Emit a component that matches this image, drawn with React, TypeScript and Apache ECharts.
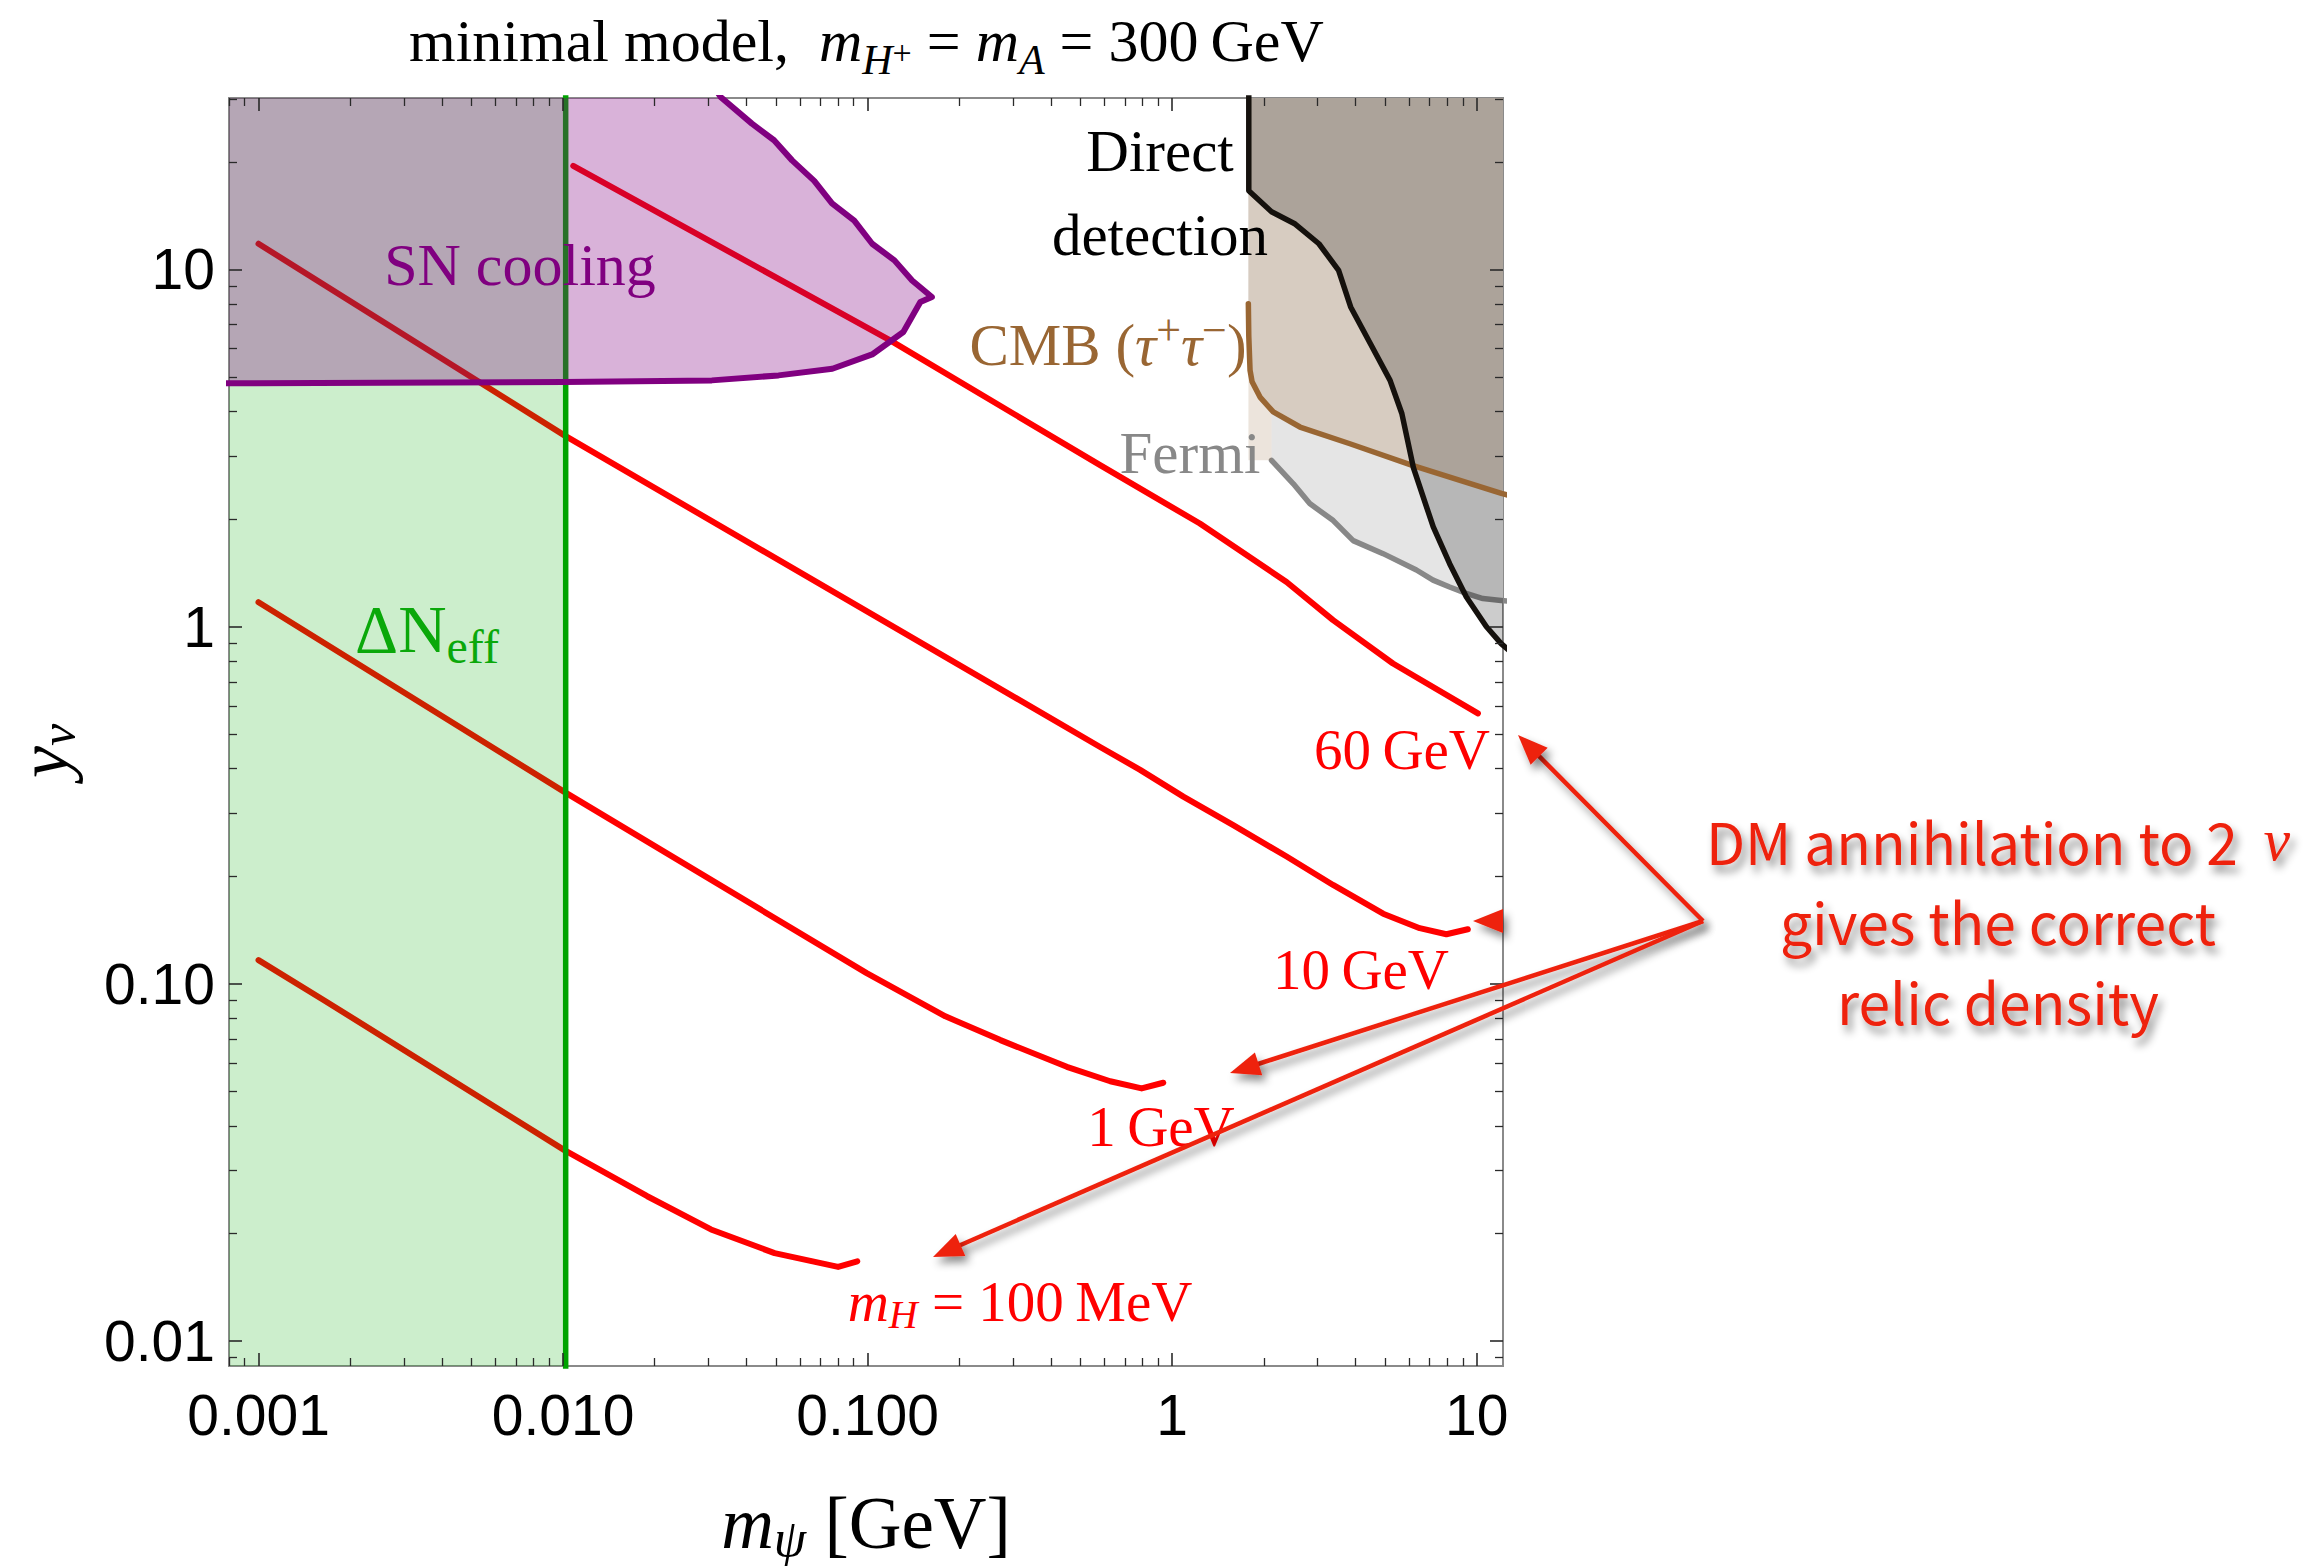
import React, { useEffect, useRef } from "react";
import * as echarts from "echarts";

// ---------------- axes ----------------
const X_MIN = 0.0008;
const X_MAX = 12.2;
const Y_MIN = 0.0085;
const Y_MAX = 30.2;

const xTickValues = [0.001, 0.01, 0.1, 1, 10];
const xTickLabels = ["0.001", "0.010", "0.100", "1", "10"];
const yTickValues = [0.01, 0.1, 1, 10];
const yTickLabels = ["0.01", "0.10", "1", "10"];
const xMinorTickValues = [
  0.0008, 0.0009, 0.002, 0.003, 0.004, 0.005, 0.006, 0.007, 0.008, 0.009, 0.02, 0.03, 0.04, 0.05, 0.06,
  0.07, 0.08, 0.09, 0.2, 0.3, 0.4, 0.5, 0.6, 0.7, 0.8, 0.9, 2, 3, 4, 5, 6, 7, 8, 9,
];
const yMinorTickValues = [
  0.009, 0.02, 0.03, 0.04, 0.05, 0.06, 0.07, 0.08, 0.09, 0.2, 0.3, 0.4, 0.5, 0.6, 0.7, 0.8, 0.9, 2, 3, 4,
  5, 6, 7, 8, 9, 20, 30,
];

// ---------------- relic density curves (m_psi [GeV], y_nu) ----------------
const relic100MeV = [
  [0.001, 0.1164], [0.00164, 0.0899], [0.0101, 0.0342], [0.0189, 0.0254], [0.0306, 0.0205],
  [0.0495, 0.0176], [0.08, 0.0161], [0.0925, 0.0167],
];
const relic1GeV = [
  [0.001, 1.17], [0.01, 0.346], [0.0993, 0.107], [0.18, 0.081], [0.273, 0.0695], [0.451, 0.0585],
  [0.626, 0.0533], [0.794, 0.0509], [0.935, 0.0528],
];
const relic10GeV = [
  [0.001, 11.8], [0.0101, 3.43], [0.58, 0.46], [0.785, 0.397], [1.088, 0.334], [1.587, 0.278],
  [2.376, 0.227], [3.376, 0.189], [4.93, 0.157], [6.5, 0.143], [7.95, 0.1375], [9.35, 0.142],
];
const relic60GeV = [
  [0.0108, 19.5], [0.1186, 6.33], [0.58, 2.83], [1.233, 1.943], [2.375, 1.333], [3.376, 1.042],
  [5.31, 0.788], [10.09, 0.571],
];

// ---------------- constraint boundaries ----------------
const deltaNeffEdge = 0.0102;
const snCoolingEdge = [
  [0.0005, 4.79], [0.0101, 4.84], [0.0308, 4.89], [0.051, 5.05], [0.0766, 5.27], [0.1035, 5.78],
  [0.131, 6.68], [0.149, 8.1], [0.1626, 8.37], [0.14, 9.31], [0.1225, 10.6], [0.1035, 11.8],
  [0.0904, 13.7], [0.0764, 15.3], [0.0668, 17.7], [0.0565, 20.2], [0.0493, 23.0], [0.0417, 25.6],
  [0.0329, 30.4], [0.029, 36],
];
const directDetectionEdge = [
  [1.785, 40], [1.785, 16.6], [2.12, 14.5], [2.535, 13.4], [3.033, 11.8], [3.52, 9.94], [3.856, 7.85],
  [4.473, 6.2], [5.194, 4.89], [5.678, 3.95], [6.2, 2.78], [7.2, 1.9], [8.15, 1.5], [9.25, 1.21],
  [10.75, 1.0], [12.03, 0.896], [14, 0.8],
];
const cmbEdge = [
  [1.779, 8.02], [1.785, 6.5], [1.802, 5.22], [1.83, 4.85], [1.943, 4.39], [2.148, 3.99], [2.629, 3.62],
  [3.834, 3.25], [6.11, 2.83], [12.05, 2.36], [14, 2.28],
];
const fermiEdge = [
  [2.12, 2.92], [2.5, 2.51], [2.83, 2.21], [3.38, 1.98], [3.93, 1.74], [4.93, 1.6], [6.34, 1.44],
  [7.19, 1.349], [8.15, 1.29], [9.24, 1.238], [10.48, 1.198], [12.03, 1.183], [14, 1.17],
];
const fermiTop = 5.25;
const fermiLeft = 2.12;
const cmbStripLeft = 1.78;
const cmbStripBottom = 2.92;

// outer closure values (outside the visible range, clipped away)
const FAR_LEFT = 1e-4;
const FAR_RIGHT = 14;
const FAR_TOP = 40;
const FAR_BOTTOM = 1e-3;

// ---------------- styling ----------------
const SERIF = "'Liberation Serif', 'Times New Roman', serif";
const SANS = "'Liberation Sans', Arial, sans-serif";
const JP = "'Noto Sans CJK JP', 'Noto Sans', sans-serif";
const RED = "#ff0000";
const ARROW = "#ee2211";
const TICK = "#2a2a2a";

const GRID = { left: 229, top: 98, width: 1274, height: 1268 };

function tickFormatter(vals: number[], labels: string[]) {
  return (v: number) => {
    const lv = Math.log10(v);
    for (let i = 0; i < vals.length; i++) {
      if (Math.abs(Math.log10(vals[i]) - lv) < 0.01) return labels[i];
    }
    return "";
  };
}

function polygonSeries(name: string, pts: number[][], fill: string, z: number) {
  return {
    type: "custom",
    name,
    z,
    clip: true,
    silent: true,
    coordinateSystem: "cartesian2d",
    xAxisIndex: 0,
    yAxisIndex: 0,
    data: [[pts[0][0], pts[0][1]]],
    encode: { x: 0, y: 1 },
    renderItem: (_params: any, api: any) => ({
      type: "polygon",
      shape: { points: pts.map((p) => api.coord(p)) },
      style: { fill, stroke: null },
    }),
  };
}

function lineSeries(name: string, data: number[][], color: string, width: number, z: number) {
  return {
    type: "line",
    name,
    data,
    z,
    symbol: "none",
    showSymbol: false,
    smooth: false,
    clip: true,
    silent: true,
    xAxisIndex: 0,
    yAxisIndex: 0,
    lineStyle: { color, width, cap: "round", join: "round" },
    itemStyle: { color },
  };
}

function textEl(x: number, y: number, text: string, fill: string, fontSize: number, rich?: any, extra?: any) {
  return {
    type: "text",
    x,
    y,
    z: 40,
    silent: true,
    style: {
      text,
      fill,
      fontFamily: SERIF,
      fontSize,
      fontWeight: "normal",
      align: "center",
      verticalAlign: "middle",
      rich,
      ...(extra || {}),
    },
  };
}

const ARROW_ORIGIN = [1703, 921];
const ARROW_TIPS = [
  [1518, 735],
  [1473, 921],
  [1230, 1073],
  [933, 1257],
];

function arrowEls(from: number[], to: number[]) {
  const dx = to[0] - from[0];
  const dy = to[1] - from[1];
  const len = Math.hypot(dx, dy);
  const ux = dx / len;
  const uy = dy / len;
  const headLen = 30;
  const headW = 12;
  const bx = to[0] - ux * headLen;
  const by = to[1] - uy * headLen;
  const px = -uy;
  const py = ux;
  const shadow = {
    shadowBlur: 9,
    shadowColor: "rgba(0,0,0,0.45)",
    shadowOffsetX: 4,
    shadowOffsetY: 6,
  };
  return [
    {
      type: "line",
      z: 45,
      silent: true,
      shape: { x1: from[0], y1: from[1], x2: bx + ux * 3, y2: by + uy * 3 },
      style: { stroke: ARROW, lineWidth: 4.5, ...shadow },
    },
    {
      type: "polygon",
      z: 45,
      silent: true,
      shape: {
        points: [
          [to[0], to[1]],
          [bx + px * headW, by + py * headW],
          [bx - px * headW, by - py * headW],
        ],
      },
      style: { fill: ARROW, ...shadow },
    },
  ];
}

function buildOption() {
  const deltaNeffPolygon = [
    [FAR_LEFT, FAR_BOTTOM], [deltaNeffEdge, FAR_BOTTOM], [deltaNeffEdge, FAR_TOP], [FAR_LEFT, FAR_TOP],
  ];
  const snPolygon = [...snCoolingEdge, [FAR_LEFT, 36], [FAR_LEFT, snCoolingEdge[0][1]]];
  const ddPolygon = [...directDetectionEdge, [FAR_RIGHT, FAR_TOP]];
  const cmbPolygon = [[cmbEdge[0][0], FAR_TOP], ...cmbEdge, [FAR_RIGHT, FAR_TOP]];
  const fermiPolygon = [[fermiLeft, fermiTop], ...fermiEdge, [FAR_RIGHT, fermiTop]];
  const stripPolygon = [
    [cmbStripLeft, fermiTop], [fermiLeft, fermiTop], [fermiLeft, cmbStripBottom], [cmbStripLeft, cmbStripBottom],
  ];

  const baseX = {
    type: "log",
    logBase: 10,
    min: X_MIN,
    max: X_MAX,
    gridIndex: 0,
    z: 20,
    axisLine: { show: false },
    splitLine: { show: false },
    minorTick: { show: false },
    axisPointer: { show: false },
  };
  const baseY = { ...baseX, min: Y_MIN, max: Y_MAX };
  const majorTick = (vals: number[]) => ({
    show: true,
    inside: true,
    length: 13,
    customValues: vals,
    lineStyle: { color: TICK, width: 1.6 },
  });
  const minorTickStyle = (vals: number[]) => ({
    show: true,
    inside: true,
    length: 8,
    customValues: vals,
    lineStyle: { color: TICK, width: 1.3 },
  });

  const labelStyle = {
    fontFamily: SANS,
    fontSize: 57,
    color: "#000",
  };

  const tr = { fontFamily: SERIF, fontSize: 60, color: "#000", fontWeight: "normal" };

  return {
    animation: false,
    backgroundColor: "#ffffff",
    title: {
      text: "{r|minimal model,  }{i|m}{s|H}{p|+}{r| = }{i|m}{s|A}{r| = 300\u2009GeV}",
      left: 409,
      top: 0,
      padding: 0,
      textStyle: {
        fontWeight: "normal",
        rich: {
          r: { ...tr },
          i: { ...tr, fontStyle: "italic" },
          s: { ...tr, fontSize: 42, fontStyle: "italic", padding: [39, 0, 0, 0] },
          p: { ...tr, fontSize: 34, padding: [24, 0, 0, 0] },
        },
      },
    },
    grid: {
      ...GRID,
      show: true,
      borderColor: "#8a8a8a",
      borderWidth: 2,
      backgroundColor: "transparent",
      containLabel: false,
      outerBoundsMode: "none",
    },
    xAxis: [
      {
        ...baseX,
        position: "bottom",
        axisTick: majorTick(xTickValues),
        axisLabel: {
          show: true,
          customValues: xTickValues,
          formatter: tickFormatter(xTickValues, xTickLabels),
          margin: 20,
          ...labelStyle,
        },
        name: "{m|m}{s|ψ}{n| [GeV]}",
        nameLocation: "middle",
        nameGap: 116,
        nameMoveOverlap: false,
        nameTextStyle: {
          rich: {
            m: { fontFamily: SERIF, fontSize: 73, fontStyle: "italic", color: "#000" },
            s: { fontFamily: SERIF, fontSize: 52, fontStyle: "italic", color: "#000", padding: [30, 0, 0, 0] },
            n: { fontFamily: SERIF, fontSize: 73, color: "#000" },
          },
        },
      },
      { ...baseX, position: "top", axisTick: majorTick(xTickValues), axisLabel: { show: false } },
      { ...baseX, position: "bottom", axisTick: minorTickStyle(xMinorTickValues), axisLabel: { show: false } },
      { ...baseX, position: "top", axisTick: minorTickStyle(xMinorTickValues), axisLabel: { show: false } },
    ],
    yAxis: [
      {
        ...baseY,
        position: "left",
        axisTick: majorTick(yTickValues),
        axisLabel: {
          show: true,
          customValues: yTickValues,
          formatter: tickFormatter(yTickValues, yTickLabels),
          margin: 14,
          ...labelStyle,
        },
        name: "{m|y}{s|ν}",
        nameLocation: "middle",
        nameGap: 146,
        nameRotate: 90,
        nameMoveOverlap: false,
        nameTextStyle: {
          padding: [0, 38, 0, 0],
          rich: {
            m: { fontFamily: SERIF, fontSize: 72, fontStyle: "italic", color: "#000" },
            s: { fontFamily: SERIF, fontSize: 50, fontStyle: "italic", color: "#000", padding: [28, 0, 0, 0] },
          },
        },
      },
      { ...baseY, position: "right", axisTick: majorTick(yTickValues), axisLabel: { show: false } },
      { ...baseY, position: "left", axisTick: minorTickStyle(yMinorTickValues), axisLabel: { show: false } },
      { ...baseY, position: "right", axisTick: minorTickStyle(yMinorTickValues), axisLabel: { show: false } },
    ],
    series: [
      lineSeries("m_H = 100 MeV", relic100MeV, RED, 6, 2),
      lineSeries("m_H = 1 GeV", relic1GeV, RED, 6, 2),
      lineSeries("m_H = 10 GeV", relic10GeV, RED, 6, 2),
      lineSeries("m_H = 60 GeV", relic60GeV, RED, 6, 2),
      polygonSeries("ΔNeff region", deltaNeffPolygon, "rgba(0,170,0,0.2)", 3),
      lineSeries("ΔNeff bound", [[deltaNeffEdge, FAR_BOTTOM], [deltaNeffEdge, FAR_TOP]], "#00a300", 5.5, 4),
      polygonSeries("SN cooling region", snPolygon, "rgba(128,0,128,0.3)", 5),
      lineSeries("SN cooling bound", snCoolingEdge, "#800080", 6, 6),
      polygonSeries("Fermi region", fermiPolygon, "#e5e5e5", 7),
      lineSeries("Fermi bound", fermiEdge, "#888888", 5.5, 8),
      polygonSeries("CMB strip", stripPolygon, "rgba(160,120,80,0.2)", 9),
      polygonSeries("CMB region", cmbPolygon, "#d7ccc1", 10),
      polygonSeries("Direct detection region", ddPolygon, "rgba(0,0,0,0.2)", 11),
      lineSeries("CMB bound", cmbEdge, "#996633", 5.5, 12),
      lineSeries("Direct detection bound", directDetectionEdge, "#15110d", 5.5, 13),
    ],
    graphic: [
      textEl(520, 265, "SN cooling", "#800080", 60),
      textEl(427, 629, "{a|ΔN}{b|eff}", "#0aa80a", 67, {
        a: { fontFamily: SERIF, fontSize: 67, fill: "#0aa80a" },
        b: { fontFamily: SERIF, fontSize: 48, fill: "#0aa80a", padding: [35, 0, 0, 0] },
      }),
      textEl(1160, 151, "Direct", "#000", 59),
      textEl(1160, 235, "detection", "#000", 59),
      textEl(1108, 345, "{a|CMB (}{t|τ}{p|+}{t|τ}{p|−}{a|)}", "#996633", 59, {
        a: { fontFamily: SERIF, fontSize: 59, fill: "#996633" },
        t: { fontFamily: SERIF, fontSize: 59, fontStyle: "italic", fill: "#996633" },
        p: { fontFamily: SERIF, fontSize: 44, fill: "#996633", padding: [0, 0, 30, 0] },
      }),
      textEl(1190, 453, "Fermi", "#888888", 59),
      textEl(1402, 749, "60\u2009GeV", RED, 57),
      textEl(1361, 969, "10\u2009GeV", RED, 57),
      textEl(1161, 1126, "1\u2009GeV", RED, 57),
      textEl(1020, 1301, "{i|m}{s|H}{a| = 100\u2009MeV}", RED, 57, {
        i: { fontFamily: SERIF, fontSize: 57, fontStyle: "italic", fill: RED },
        s: { fontFamily: SERIF, fontSize: 40, fontStyle: "italic", fill: RED, padding: [27, 0, 0, 0] },
        a: { fontFamily: SERIF, fontSize: 57, fill: RED },
      }),
      ...ARROW_TIPS.flatMap((tip) => arrowEls(ARROW_ORIGIN, tip)),
      textEl(
        1998,
        920,
        "{a|DM annihilation to 2  }{n|ν}\n{a|gives the correct}\n{a|relic density}",
        ARROW,
        56,
        {
          a: {
            fontFamily: JP,
            fontSize: 57,
            lineHeight: 80,
            fill: ARROW,
            textShadowColor: "rgba(0,0,0,0.45)",
            textShadowBlur: 8,
            textShadowOffsetX: 4,
            textShadowOffsetY: 7,
          },
          n: {
            fontFamily: SERIF,
            fontSize: 60,
            fontStyle: "italic",
            lineHeight: 80,
            fill: ARROW,
            textShadowColor: "rgba(0,0,0,0.45)",
            textShadowBlur: 8,
            textShadowOffsetX: 4,
            textShadowOffsetY: 7,
          },
        },
        { fontFamily: JP, lineHeight: 80 }
      ),
    ],
  };
}

export default function App() {
  const ref = useRef<HTMLDivElement>(null);
  useEffect(() => {
    document.body.style.margin = "0";
    document.body.style.overflow = "hidden";
    const chart = echarts.init(ref.current as HTMLDivElement, undefined, { renderer: "svg" });
    chart.setOption(buildOption() as any);
    return () => {
      chart.dispose();
    };
  }, []);
  return <div ref={ref} style={{ width: 2318, height: 1566 }} />;
}
